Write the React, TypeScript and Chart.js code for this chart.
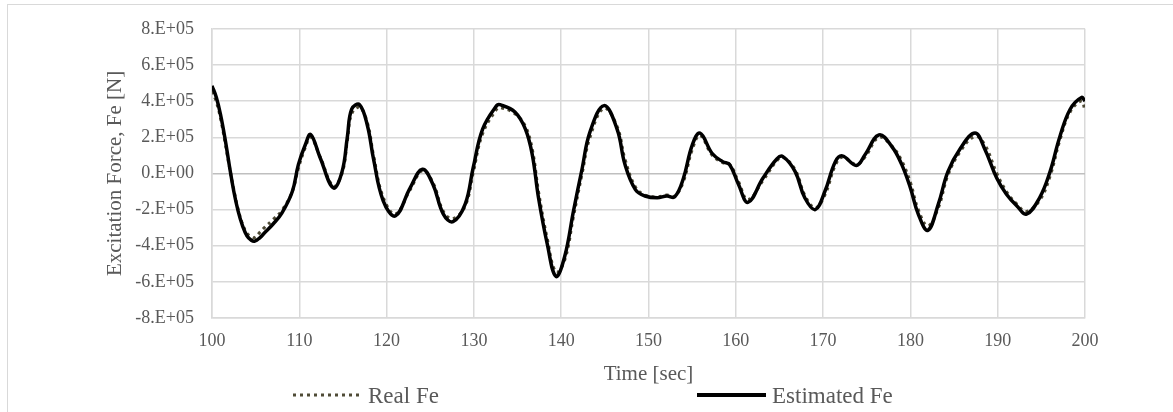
import { useEffect, useRef } from "react";
import { Chart, registerables } from "chart.js";

Chart.register(...registerables);

// Sample times [sec]
const timeSec = [
  100.0, 100.5, 101.0, 101.5, 102.0, 102.5, 103.0, 103.5, 104.0, 104.5, 104.9,
  105.5, 106.0, 107.0, 108.0, 109.2, 109.9, 110.7, 111.3, 112.4, 113.9, 114.9,
  115.5, 116.0, 116.9, 117.8, 118.5, 119.6, 121.0, 122.7, 124.1, 125.3, 126.5,
  127.6, 129.0, 129.9, 131.0, 132.6, 133.0, 134.7, 135.9, 136.7, 137.4, 138.4,
  139.4, 140.4, 141.4, 142.4, 143.3, 144.9, 146.4, 147.3, 148.5, 149.6, 151.0,
  152.1, 153.0, 154.0, 155.0, 155.9, 157.3, 158.5, 159.3, 160.3, 161.4, 163.1,
  164.7, 165.4, 166.8, 167.9, 169.1, 170.2, 171.4, 172.2, 173.8, 174.8, 176.4,
  177.9, 179.0, 180.0, 180.9, 182.0, 183.2, 184.3, 185.7, 187.4, 188.5, 189.9,
  191.0, 192.2, 193.3, 194.8, 196.0, 197.1, 198.3, 199.6, 200.0,
];

// Estimated excitation force [N]
const estimatedFe = [
  485000, 420000, 320000, 190000, 40000, -100000, -210000, -290000, -345000, -370000, -375000,
  -355000, -330000, -280000, -220000, -100000, 50000, 160000, 215000, 85000, -80000, 10000,
  200000, 355000, 380000, 265000, 80000, -150000, -235000, -80000, 23000, -60000, -225000,
  -267000, -170000, 27000, 245000, 375000, 380000, 340000, 245000, 100000, -135000, -390000,
  -570000, -460000, -210000, 27000, 230000, 375000, 245000, 50000, -90000, -125000, -135000,
  -125000, -130000, -27000, 155000, 223000, 110000, 65000, 48000, -60000, -160000, -27000,
  80000, 93000, 10000, -135000, -200000, -100000, 65000, 97000, 44000, 103000, 213000,
  147000, 50000, -80000, -225000, -315000, -170000, 10000, 137000, 223000, 137000, -27000,
  -115000, -180000, -225000, -135000, 10000, 200000, 355000, 420000, 400000,
];

// Measured (real) excitation force [N]
const realFe = [
  455000, 395000, 300000, 170000, 35000, -90000, -200000, -280000, -330000, -350000, -355000,
  -325000, -300000, -255000, -205000, -100000, 30000, 145000, 200000, 90000, -70000, 0,
  180000, 330000, 365000, 280000, 100000, -130000, -225000, -90000, 15000, -50000, -210000,
  -250000, -180000, 0, 220000, 355000, 365000, 330000, 260000, 130000, -100000, -360000,
  -545000, -480000, -240000, 0, 200000, 360000, 260000, 80000, -75000, -120000, -130000,
  -120000, -125000, -45000, 130000, 210000, 100000, 60000, 50000, -45000, -145000, -40000,
  70000, 90000, 20000, -120000, -190000, -120000, 45000, 90000, 50000, 90000, 200000,
  150000, 70000, -50000, -200000, -290000, -190000, -10000, 120000, 205000, 160000, 0,
  -100000, -170000, -210000, -150000, -15000, 180000, 340000, 400000, 345000,
];

const xMin = 100;
const xMax = 200;
const xStep = 10;
const yMin = -8e5;
const yMax = 8e5;
const yStep = 2e5;

const seriesNames = ["Real Fe", "Estimated Fe"];

const FONT = "'Liberation Serif', 'Times New Roman', serif";
const TEXT = "#595959";
const GRID = "#d9d9d9";
const REAL_COLOR = "#4f4b36";
const DOT_DASH = [3, 4];

// Excel-like scientific labels: 8.E+05, 0.E+00, -2.E+05
function sciLabel(v: number): string {
  if (v === 0) return "0.E+00";
  const exp = Math.floor(Math.log10(Math.abs(v)));
  const mant = Math.round(v / Math.pow(10, exp));
  const sign = exp >= 0 ? "+" : "-";
  return `${mant}.E${sign}${String(Math.abs(exp)).padStart(2, "0")}`;
}

// Light frame around the whole chart
const framePlugin = {
  id: "frame",
  beforeDraw(chart: any) {
    const ctx = chart.ctx;
    ctx.save();
    ctx.strokeStyle = GRID;
    ctx.lineWidth = 1;
    ctx.strokeRect(7.5, 4.5, chart.width + 20, chart.height + 20);
    ctx.restore();
  },
};

// Bottom legend with the two series samples
const legendPlugin = {
  id: "bottomLegend",
  afterDraw(chart: any) {
    const ctx = chart.ctx;
    const y = 395;
    ctx.save();
    // Real Fe: dotted sample
    ctx.strokeStyle = REAL_COLOR;
    ctx.lineWidth = 3;
    ctx.setLineDash(DOT_DASH);
    ctx.beginPath();
    ctx.moveTo(293, y);
    ctx.lineTo(359, y);
    ctx.stroke();
    // Estimated Fe: solid sample
    ctx.setLineDash([]);
    ctx.strokeStyle = "#000000";
    ctx.lineWidth = 4;
    ctx.beginPath();
    ctx.moveTo(697, y);
    ctx.lineTo(766, y);
    ctx.stroke();

    ctx.fillStyle = TEXT;
    ctx.font = `23px ${FONT}`;
    ctx.textBaseline = "alphabetic";
    ctx.textAlign = "left";
    ctx.fillText(seriesNames[0], 368, 403);
    ctx.fillText(seriesNames[1], 772, 403);
    ctx.restore();
  },
};

export default function App() {
  const canvasRef = useRef<HTMLCanvasElement | null>(null);

  useEffect(() => {
    const canvas = canvasRef.current;
    if (!canvas) return;

    const realPoints = timeSec.map((t, i) => ({ x: t, y: realFe[i] }));
    const estPoints = timeSec.map((t, i) => ({ x: t, y: estimatedFe[i] }));

    const chart = new Chart(canvas, {
      type: "line",
      data: {
        datasets: [
          {
            label: seriesNames[0],
            data: realPoints,
            borderColor: REAL_COLOR,
            borderWidth: 3,
            borderDash: DOT_DASH,
            pointRadius: 0,
            fill: false,
            tension: 0.4,
            order: 2,
          },
          {
            label: seriesNames[1],
            data: estPoints,
            borderColor: "#000000",
            borderWidth: 3.5,
            pointRadius: 0,
            fill: false,
            tension: 0.4,
            order: 1,
          },
        ],
      },
      options: {
        responsive: false,
        animation: false,
        layout: { padding: { left: 99, right: 88, top: 25, bottom: 21 } },
        plugins: {
          legend: { display: false },
          tooltip: { enabled: false },
        },
        scales: {
          x: {
            type: "linear",
            min: xMin,
            max: xMax,
            ticks: {
              stepSize: xStep,
              padding: 12,
              color: TEXT,
              maxRotation: 0,
              font: { family: FONT, size: 18 },
            },
            grid: { color: GRID, lineWidth: 1.5, drawTicks: false },
            border: { color: GRID, width: 1.5 },
            title: {
              display: true,
              text: "Time [sec]",
              color: TEXT,
              font: { family: FONT, size: 21 },
            },
            afterFit(scale: any) {
              scale.height = 73;
            },
          },
          y: {
            type: "linear",
            min: yMin,
            max: yMax,
            ticks: {
              stepSize: yStep,
              padding: 18,
              color: TEXT,
              font: { family: FONT, size: 18 },
              callback: (v: any) => sciLabel(Number(v)),
            },
            grid: {
              color: (c: any) => (c.tick && c.tick.value === 0 ? "#bfbfbf" : GRID),
              lineWidth: 1.5,
              drawTicks: false,
            },
            border: { color: GRID, width: 1.5 },
            title: {
              display: true,
              text: "Excitation Force, Fe [N]",
              color: TEXT,
              font: { family: FONT, size: 21 },
            },
            afterFit(scale: any) {
              scale.width = 113;
            },
          },
        },
      },
      plugins: [framePlugin, legendPlugin],
    });

    return () => chart.destroy();
  }, []);

  return (
    <div style={{ position: "absolute", left: 0, top: 0, width: 1173, height: 412, background: "#ffffff" }}>
      <canvas ref={canvasRef} width={1173} height={412} style={{ width: 1173, height: 412, display: "block" }} />
    </div>
  );
}
